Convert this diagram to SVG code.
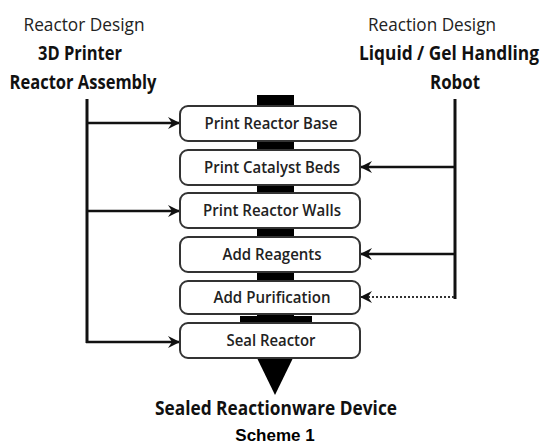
<svg xmlns="http://www.w3.org/2000/svg" width="549" height="446" viewBox="0 0 549 446">
<defs>
<style>
.hdr{font-family:"Open Sans","Noto Sans",sans-serif;font-size:18px;fill:#222;text-anchor:middle}
.hb{font-family:"Open Sans","Noto Sans",sans-serif;font-size:20px;font-weight:700;fill:#111;text-anchor:middle}
.box rect{fill:#fff;stroke:#333;stroke-width:2}
.box text{font-family:"Open Sans","Noto Sans",sans-serif;font-size:16px;font-weight:600;fill:#222;text-anchor:middle}
.ln{stroke:#111;stroke-width:3;fill:none}
.ar{stroke:#111;stroke-width:2.5;fill:none;marker-end:url(#ah)}
.dot{stroke:#333;stroke-width:2;stroke-dasharray:2 2;fill:none;marker-end:url(#ah)}
</style>
<marker id="ah" viewBox="0 0 12 12" refX="11" refY="6" markerWidth="12" markerHeight="12" markerUnits="userSpaceOnUse" orient="auto">
<path d="M0,0 L12,6 L0,12 L4,6 z" fill="#111"/>
</marker>
</defs>
<rect width="549" height="446" fill="#fff"/>
<text class="hdr" x="84" y="31" textLength="121" lengthAdjust="spacingAndGlyphs">Reactor Design</text>
<text class="hdr" x="432" y="31" textLength="128" lengthAdjust="spacingAndGlyphs">Reaction Design</text>
<text class="hb" x="80" y="60" textLength="84" lengthAdjust="spacingAndGlyphs">3D Printer</text>
<text class="hb" x="83" y="89" textLength="147" lengthAdjust="spacingAndGlyphs">Reactor Assembly</text>
<text class="hb" x="449" y="60" font-size="16" textLength="180" lengthAdjust="spacingAndGlyphs">Liquid / Gel Handling</text>
<text class="hb" x="455" y="89" textLength="50" lengthAdjust="spacingAndGlyphs">Robot</text>
<g id="spine">
<rect x="257" y="95" width="37" height="263" fill="#000"/>
<rect x="240" y="316" width="72" height="8" fill="#000"/>
<polygon points="257,358 293,358 275,395" fill="#000"/>
</g>
<g id="connectors">
<line class="ln" x1="87" y1="99" x2="87" y2="343"/>
<line class="ar" x1="86" y1="123" x2="179" y2="123"/>
<line class="ar" x1="86" y1="211" x2="179" y2="211"/>
<line class="ar" x1="86" y1="342" x2="179" y2="342"/>
<line class="ln" x1="455" y1="99" x2="455" y2="299"/>
<line class="ar" x1="456" y1="167" x2="361" y2="167"/>
<line class="ar" x1="456" y1="254" x2="361" y2="254"/>
<line class="dot" x1="454" y1="297" x2="361" y2="297"/>
</g>
<g id="n1" class="box"><rect x="180" y="106" width="180" height="35" rx="8"/><text x="271" y="129" textLength="133" lengthAdjust="spacingAndGlyphs">Print Reactor Base</text></g>
<g id="n2" class="box"><rect x="180" y="150" width="180" height="35" rx="8"/><text x="272" y="173" textLength="136" lengthAdjust="spacingAndGlyphs">Print Catalyst Beds</text></g>
<g id="n3" class="box"><rect x="180" y="193" width="180" height="35" rx="8"/><text x="272" y="216" textLength="138" lengthAdjust="spacingAndGlyphs">Print Reactor Walls</text></g>
<g id="n4" class="box"><rect x="180" y="237" width="180" height="35" rx="8"/><text x="272" y="260" textLength="99" lengthAdjust="spacingAndGlyphs">Add Reagents</text></g>
<g id="n5" class="box"><rect x="180" y="281" width="180" height="33" rx="8"/><text x="272" y="303" textLength="117" lengthAdjust="spacingAndGlyphs">Add Purification</text></g>
<g id="n6" class="box"><rect x="180" y="323" width="180" height="35" rx="8"/><text x="271" y="346" textLength="89" lengthAdjust="spacingAndGlyphs">Seal Reactor</text></g>
<text class="hb" x="276" y="415" textLength="242" lengthAdjust="spacingAndGlyphs">Sealed Reactionware Device</text>
<text x="275" y="441" font-family="Liberation Sans, Arial, sans-serif" font-weight="700" font-size="17" text-anchor="middle" fill="#000">Scheme 1</text>
</svg>
